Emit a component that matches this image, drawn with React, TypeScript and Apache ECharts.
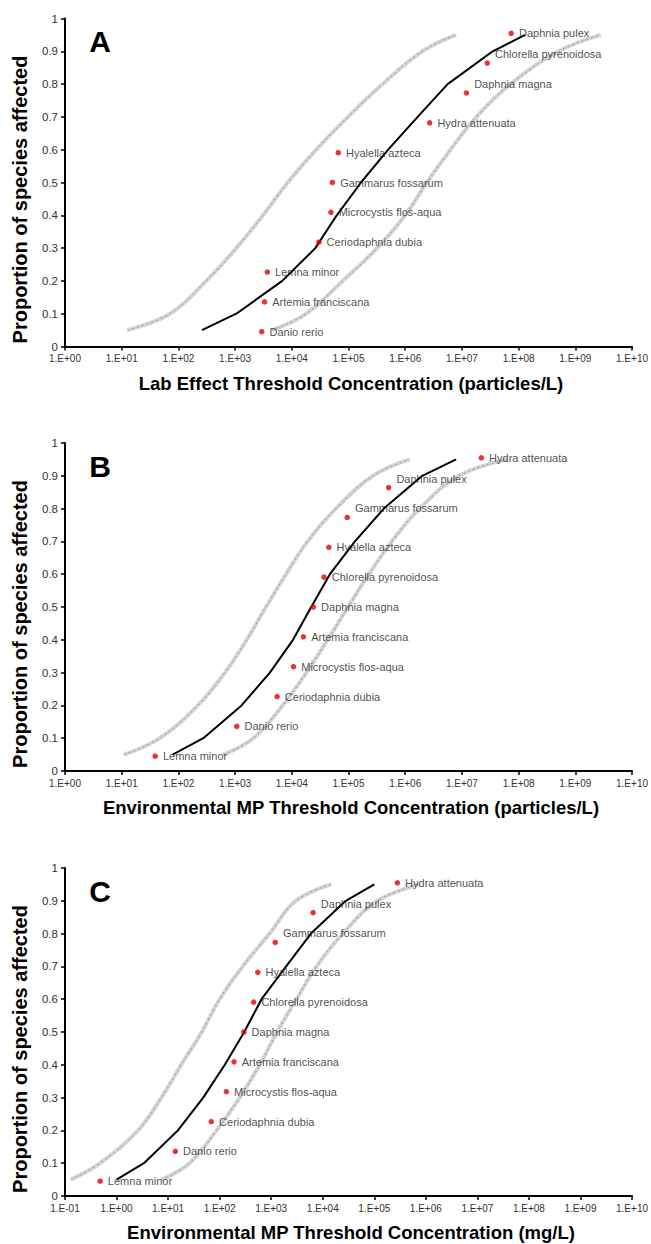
import React, { useEffect, useRef } from "react";
import * as echarts from "echarts";

// cumulative proportions
const ranks = [0.045, 0.136, 0.227, 0.318, 0.409, 0.5, 0.591, 0.682, 0.773, 0.864, 0.955];
const probs = [0.05, 0.1, 0.2, 0.3, 0.4, 0.5, 0.6, 0.7, 0.8, 0.9, 0.95];

// Panel A – lab effect threshold (particles/L)
const speciesA = ["Danio rerio", "Artemia franciscana", "Lemna minor", "Ceriodaphnia dubia", "Microcystis flos-aqua", "Gammarus fossarum", "Hyalella azteca", "Hydra attenuata", "Daphnia magna", "Chlorella pyrenoidosa", "Daphnia pulex"];
const concA = [2.95e3, 3.3e3, 3.7e3, 3.0e4, 4.9e4, 5.2e4, 6.6e4, 2.7e6, 1.2e7, 2.8e7, 7.4e7];
const fitA = [2.6e2, 1.05e3, 6.8e3, 2.6e4, 6.2e4, 1.66e5, 5.0e5, 1.66e6, 5.6e6, 3.5e7, 1.3e8];
const lowA = [12.6, 71, 310, 1.05e3, 3.1e3, 8.5e3, 2.7e4, 9.8e4, 4.0e5, 2.0e6, 7.9e6];
const highA = [4.5e3, 1.8e4, 7.9e4, 3.2e5, 1.0e6, 2.4e6, 6.3e6, 1.8e7, 7.2e7, 5.1e8, 2.8e9];
const raisedA = ["Chlorella pyrenoidosa", "Daphnia magna"];

// Panel B – environmental MP threshold (particles/L)
const speciesB = ["Lemna minor", "Danio rerio", "Ceriodaphnia dubia", "Microcystis flos-aqua", "Artemia franciscana", "Daphnia magna", "Chlorella pyrenoidosa", "Hyalella azteca", "Gammarus fossarum", "Daphnia pulex", "Hydra attenuata"];
const concB = [39, 1.07e3, 5.5e3, 1.07e4, 1.6e4, 2.4e4, 3.7e4, 4.5e4, 9.5e4, 5.1e5, 2.2e7];
const fitB = [79, 275, 1.3e3, 4.1e3, 1.05e4, 2.2e4, 4.7e4, 1.3e5, 4.2e5, 2.0e6, 7.9e6];
const lowB = [11, 47, 220, 660, 1.6e3, 3.5e3, 7.9e3, 1.9e4, 6.0e4, 2.7e5, 1.2e6];
const highB = [620, 2.1e3, 6.9e3, 1.8e4, 4.3e4, 9.8e4, 2.3e5, 5.8e5, 1.8e6, 8.9e6, 6.3e7];
const raisedB = ["Gammarus fossarum", "Daphnia pulex"];

// Panel C – environmental MP threshold (mg/L)
const speciesC = ["Lemna minor", "Danio rerio", "Ceriodaphnia dubia", "Microcystis flos-aqua", "Artemia franciscana", "Daphnia magna", "Chlorella pyrenoidosa", "Hyalella azteca", "Gammarus fossarum", "Daphnia pulex", "Hydra attenuata"];
const concC = [0.48, 13.8, 69, 135, 190, 295, 457, 550, 1.2e3, 6.5e3, 2.8e5];
const fitC = [1.0, 3.4, 15.5, 48, 126, 300, 650, 1.95e3, 5.9e3, 2.8e4, 1.0e5];
const lowC = [0.13, 0.48, 2.6, 7.4, 18, 45, 100, 280, 930, 3.0e3, 1.45e4];
const highC = [7.4, 26, 87, 245, 600, 1.3e3, 3.1e3, 7.6e3, 2.45e4, 1.15e5, 7.4e5];
const raisedC = ["Gammarus fossarum", "Daphnia pulex"];

const letters = ["A", "B", "C"];
const xTitles = [
  "Lab Effect Threshold Concentration (particles/L)",
  "Environmental MP Threshold Concentration (particles/L)",
  "Environmental MP Threshold Concentration (mg/L)",
];
const yTitle = "Proportion of species affected";
const xMinExp = [0, 0, -1];
const xMaxExp = 10;

const FONT = "'Liberation Sans', Arial, sans-serif";

const panels = [
  { species: speciesA, conc: concA, fit: fitA, low: lowA, high: highA, raised: raisedA },
  { species: speciesB, conc: concB, fit: fitB, low: lowB, high: highB, raised: raisedB },
  { species: speciesC, conc: concC, fit: fitC, low: lowC, high: highC, raised: raisedC },
];

const gridTops = [18.5, 443, 868];
const gridH = 328;
const gridLeft = 65;
const gridRight = 18;

const expLabel = (v: number) => {
  const e = Math.round(v);
  const sign = e < 0 ? "-" : "+";
  return `1.E${sign}${String(Math.abs(e)).padStart(2, "0")}`;
};

export default function App() {
  const ref = useRef<HTMLDivElement>(null);
  useEffect(() => {
    document.body.style.margin = "0";
    if (!ref.current) return;
    const chart = echarts.init(ref.current, undefined, { renderer: "svg" });

    const grids: any[] = [];
    const xAxes: any[] = [];
    const yAxes: any[] = [];
    const series: any[] = [];
    const graphics: any[] = [];

    panels.forEach((p, i) => {
      grids.push({ left: gridLeft, right: gridRight, top: gridTops[i], height: gridH, containLabel: false });
      xAxes.push({
        gridIndex: i,
        type: "value",
        min: xMinExp[i],
        max: xMaxExp,
        interval: 1,
        axisLine: { show: true, onZero: false, lineStyle: { color: "#000", width: 2 } },
        axisTick: { show: true, length: 4, lineStyle: { color: "#000", width: 1.5 } },
        axisLabel: { formatter: expLabel, fontSize: 10, color: "#333", margin: 7, fontFamily: FONT },
        splitLine: { show: false },
      });
      yAxes.push({
        gridIndex: i,
        type: "value",
        min: 0,
        max: 1,
        interval: 0.1,
        axisLine: { show: true, onZero: false, lineStyle: { color: "#000", width: 2 } },
        axisTick: { show: true, length: 4, lineStyle: { color: "#000", width: 1.5 } },
        axisLabel: { fontSize: 11.5, color: "#333", margin: 7, fontFamily: FONT },
        splitLine: { show: false },
      });

      const toPts = (arr: number[]) => arr.map((c, k) => [Math.log10(c), probs[k]]);
      [p.low, p.high].forEach((band) => {
        series.push({
          type: "line", xAxisIndex: i, yAxisIndex: i, data: toPts(band), smooth: 0.4,
          symbol: "none", silent: true, z: 1,
          lineStyle: { color: "#d4d4d4", width: 4 },
        });
        series.push({
          type: "line", xAxisIndex: i, yAxisIndex: i, data: toPts(band), smooth: 0.4,
          symbol: "none", silent: true, z: 2,
          lineStyle: { color: "#999999", width: 1, type: [2, 3] },
        });
      });
      series.push({
        type: "line", xAxisIndex: i, yAxisIndex: i, data: toPts(p.fit), smooth: false,
        symbol: "none", silent: true, z: 3,
        lineStyle: { color: "#000", width: 2 },
      });
      series.push({
        type: "scatter", xAxisIndex: i, yAxisIndex: i, z: 4,
        symbol: "circle", symbolSize: 5.5,
        itemStyle: { color: "#e60000" },
        data: p.species.map((name, k) => ({
          name,
          value: [Math.log10(p.conc[k]), ranks[k]],
          label: p.raised.includes(name) ? { offset: [0, -9] } : undefined,
        })),
        label: {
          show: true, position: "right", distance: 5, formatter: "{b}",
          fontSize: 11, color: "#222", fontFamily: FONT,
        },
      });

      const axisBottom = gridTops[i] + gridH;
      graphics.push({
        type: "text", x: 100, y: gridTops[i] + 23,
        style: { text: letters[i], font: `bold 30px ${FONT}`, fill: "#000", textAlign: "center", textVerticalAlign: "middle" },
      });
      graphics.push({
        type: "text", x: 351, y: axisBottom + 36.5,
        style: { text: xTitles[i], font: `bold 18.5px ${FONT}`, fill: "#000", textAlign: "center", textVerticalAlign: "middle" },
      });
      graphics.push({
        type: "text", x: 20, y: gridTops[i] + gridH / 2 + 17, rotation: Math.PI / 2,
        style: { text: yTitle, font: `bold 20px ${FONT}`, fill: "#000", textAlign: "center", textVerticalAlign: "middle" },
      });
    });

    chart.setOption({
      animation: false,
      backgroundColor: "#fff",
      grid: grids,
      xAxis: xAxes,
      yAxis: yAxes,
      series,
      graphic: graphics,
    });
    return () => chart.dispose();
  }, []);
  return <div ref={ref} style={{ width: 651, height: 1244 }} />;
}
